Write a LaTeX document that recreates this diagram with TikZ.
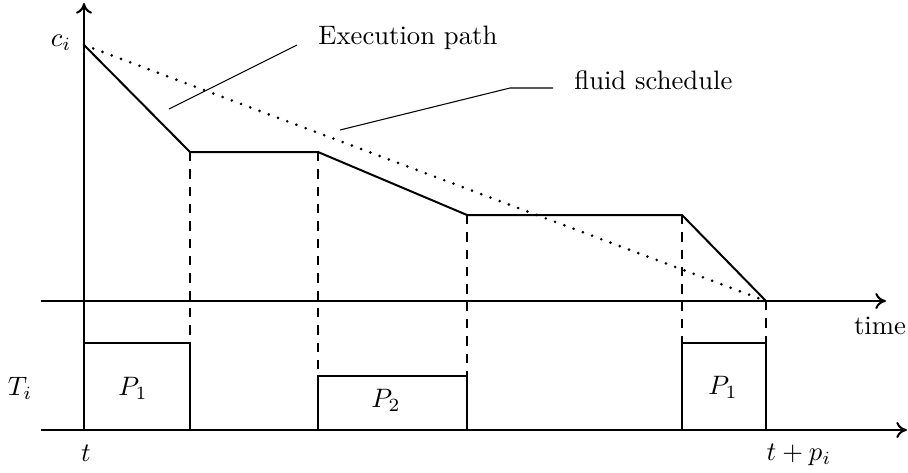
\documentclass[tikz,border=0pt]{standalone}
\usepackage{amsmath,amssymb}
\usetikzlibrary{arrows.meta}

\begin{document}
\begin{tikzpicture}[
  x=0.375pt, y=-0.375pt,
  axis/.style={-{To[length=4pt,width=6pt]}, line width=0.75pt},
  run/.style={line width=0.75pt},
  fluid/.style={line width=1.1pt, dash pattern=on 0pt off 3.7pt, line cap=round},
  guide/.style={line width=0.75pt, dash pattern=on 3.5pt off 3pt},
  lead/.style={line width=0.4pt}
]
\useasboundingbox (0,0) rectangle (908,472);
% axes
\coordinate (o) at (84,430);
\coordinate (ytop) at (84,3);
\coordinate (xl) at (41,301);
\coordinate (xr) at (886,301);
\coordinate (bl) at (41,430);
\coordinate (br) at (907,430);
\draw[axis] (o) -- (ytop);
\draw[axis] (xl) -- (xr);
\draw[axis] (bl) -- (br);
% execution path
\coordinate (c0) at (84,45);
\coordinate (a1) at (190,152);
\coordinate (a2) at (318,152);
\coordinate (a3) at (467,215);
\coordinate (a4) at (682,215);
\coordinate (a5) at (766,301);
\draw[run] (c0) -- (a1) -- (a2) -- (a3) -- (a4) -- (a5);
\draw[fluid] (c0) -- (a5);
% drop lines
\foreach \p/\x in {a1/190,a2/318,a3/467,a4/682,a5/766}
  \draw[guide] (\p) -- (\x,430);
% processor boxes
\coordinate (p1) at (190,343);
\coordinate (q2) at (318,430);
\coordinate (p2) at (467,376);
\coordinate (q3) at (682,430);
\coordinate (p3) at (766,343);
\draw[run] (o) rectangle (p1);
\draw[run] (q2) rectangle (p2);
\draw[run] (q3) rectangle (p3);
\node (b1) at (133,388) {$P_1$};
\node (b2) at (386,400) {$P_2$};
\node (b3) at (723,387) {$P_1$};
% labels
\node (ci) at (61,43) {$c_i$};
\node (ti) at (20,388) {$T_i$};
\node (tm) at (880,326) {time};
\node (t0) at (86,453) {$t$};
\node (t1) at (799,455) {$t+p_i$};
\node[anchor=west] (ex) at (309,38) {Execution path};
\node[anchor=west] (fl) at (565,80) {fluid schedule};
% leaders
\coordinate (e0) at (169,109);
\coordinate (e1) at (297,45);
\coordinate (f0) at (340,130);
\coordinate (f1) at (510,88);
\coordinate (f2) at (553,88);
\draw[lead] (e0) -- (e1);
\draw[lead] (f0) -- (f1) -- (f2);
\end{tikzpicture}
\end{document}
